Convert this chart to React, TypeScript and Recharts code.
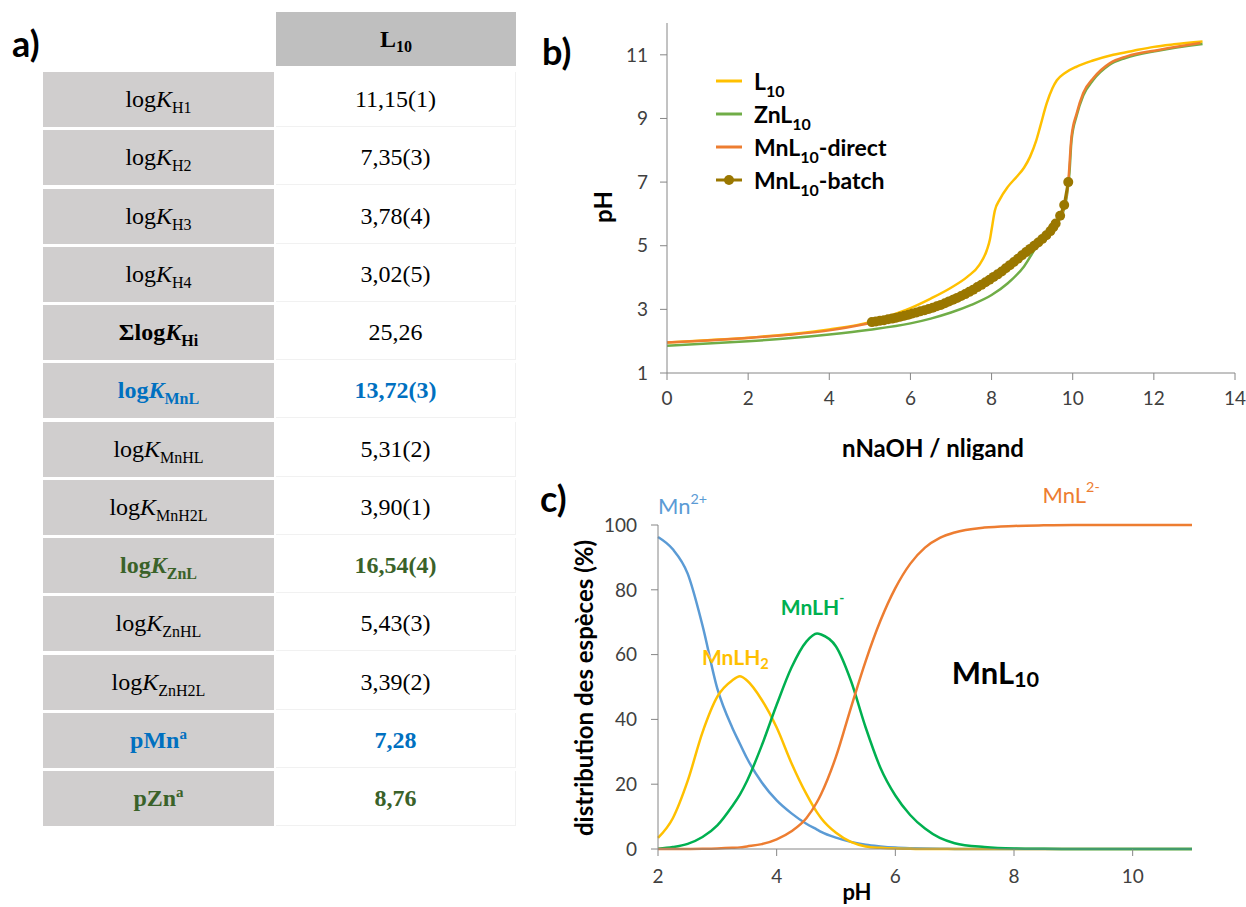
import React from 'react';
import { LineChart, Line, XAxis, YAxis, Legend, ReferenceDot } from 'recharts';

const SANS = 'Lato, "Open Sans", sans-serif';
const SERIF = '"Liberation Serif", "Times New Roman", serif';

const YELLOW = '#ffc000';
const GREEN_B = '#70ad47';
const ORANGE = '#ed7d31';
const BROWN = '#9a7700';
const BLUE_C = '#5b9bd5';
const GREEN_C = '#00b050';
const AXIS = '#868686';
const TICK = '#404040';
const MN_BLUE = '#0070c0';
const ZN_GREEN = '#3a6229';

// --- a) tableau des constantes
const rowHeads = ['log', 'log', 'log', 'log', 'Σlog', 'log', 'log', 'log', 'log', 'log', 'log', 'pMn', 'pZn'];
const rowSubs = ['H1', 'H2', 'H3', 'H4', 'Hi', 'MnL', 'MnHL', 'MnH2L', 'ZnL', 'ZnHL', 'ZnH2L', '', ''];
const rowValues = ['11,15(1)', '7,35(3)', '3,78(4)', '3,02(5)', '25,26', '13,72(3)', '5,31(2)', '3,90(1)', '16,54(4)', '5,43(3)', '3,39(2)', '7,28', '8,76'];
const rowTones = ['n', 'n', 'n', 'n', 'b', 'mn', 'n', 'n', 'zn', 'n', 'n', 'mn', 'zn'];

// --- b) titrages (x = nNaOH / nligand, y = pH)
const l10X = [0, 1, 2, 3, 4, 5, 5.5, 6, 6.5, 7, 7.4, 7.7, 7.88, 7.96, 8.0, 8.08, 8.2, 8.4, 8.62, 8.8, 8.95, 9.1, 9.2, 9.36, 9.5, 9.61, 9.8, 10.1, 10.5, 11, 11.5, 12, 12.5, 13.2];
const l10Y = [1.96, 2.03, 2.11, 2.22, 2.37, 2.6, 2.8, 3.04, 3.34, 3.68, 4.02, 4.4, 4.85, 5.2, 5.5, 6.1, 6.45, 6.85, 7.17, 7.45, 7.8, 8.3, 8.75, 9.48, 9.95, 10.2, 10.42, 10.63, 10.82, 11.0, 11.13, 11.25, 11.33, 11.42];

const znX = [0, 1, 2, 3, 4, 5, 6, 6.5, 7, 7.5, 8, 8.4, 8.8, 9.1, 9.5, 9.8, 9.88, 9.92, 9.97, 10.1, 10.26, 10.5, 10.9, 11.3, 12.1, 13.2];
const znY = [1.86, 1.93, 2.0, 2.09, 2.21, 2.36, 2.56, 2.71, 2.9, 3.14, 3.45, 3.82, 4.35, 4.95, 5.55, 6.2, 6.8, 7.3, 8.3, 9.1, 9.72, 10.2, 10.68, 10.9, 11.13, 11.34];

const directX = [0, 1, 2, 3, 4, 5.05, 5.5, 6, 6.5, 7, 7.5, 8, 8.5, 9, 9.4, 9.7, 9.8, 9.89, 9.97, 10.1, 10.26, 10.51, 10.92, 11.33, 12.15, 13.15];
const directY = [1.96, 2.02, 2.1, 2.2, 2.34, 2.58, 2.7, 2.86, 3.04, 3.28, 3.58, 3.98, 4.45, 4.93, 5.4, 5.95, 6.27, 7.0, 8.43, 9.17, 9.8, 10.27, 10.74, 10.95, 11.16, 11.37];

const batchX = [5.05, 5.15, 5.25, 5.35, 5.45, 5.55, 5.65, 5.75, 5.85, 5.95, 6.05, 6.15, 6.25, 6.35, 6.45, 6.55, 6.65, 6.75, 6.85, 6.95, 7.05, 7.15, 7.25, 7.35, 7.45, 7.55, 7.65, 7.75, 7.85, 7.95, 8.05, 8.15, 8.25, 8.35, 8.45, 8.55, 8.65, 8.75, 8.85, 8.95, 9.05, 9.15, 9.25, 9.35, 9.45, 9.52, 9.58, 9.69, 9.79, 9.89];
const batchY = [2.6, 2.62, 2.64, 2.66, 2.69, 2.71, 2.74, 2.77, 2.8, 2.83, 2.87, 2.9, 2.94, 2.97, 3.01, 3.05, 3.1, 3.14, 3.19, 3.25, 3.3, 3.36, 3.42, 3.48, 3.55, 3.62, 3.7, 3.77, 3.85, 3.93, 4.02, 4.1, 4.19, 4.29, 4.39, 4.49, 4.59, 4.7, 4.8, 4.9, 5.0, 5.1, 5.21, 5.33, 5.46, 5.58, 5.7, 5.94, 6.28, 7.0];

const legendNames = ['L', 'ZnL', 'MnL', 'MnL'];
const legendTails = ['', '', '-direct', '-batch'];
const legendColors = [YELLOW, GREEN_B, ORANGE, BROWN];

// --- c) distribution des espèces MnL10
const phGrid = [2, 2.25, 2.5, 2.75, 3, 3.25, 3.38, 3.5, 3.75, 4, 4.25, 4.5, 4.68, 4.75, 5, 5.25, 5.5, 5.75, 6, 6.25, 6.5, 6.75, 7, 7.5, 8, 8.5, 9, 10, 11];
const mnFree = [96.3, 92.5, 85, 69, 49.5, 37.5, 32.5, 28, 20.5, 15, 11, 7.8, 6.0, 5.3, 3.5, 2.2, 1.3, 0.8, 0.45, 0.25, 0.12, 0.06, 0.03, 0, 0, 0, 0, 0, 0];
const mnLH2 = [3.4, 9.5, 21, 36, 47, 52, 53.3, 52, 46, 37.5, 26.5, 17, 11.3, 9.5, 5, 2.2, 0.8, 0.35, 0.12, 0.04, 0, 0, 0, 0, 0, 0, 0, 0, 0];
const mnLH = [0.1, 0.6, 1.6, 3.7, 7.3, 13.2, 16.8, 21, 32, 44.5, 56, 64, 66.5, 66.2, 62.5, 52, 37.5, 25, 16.5, 10.5, 6.3, 3.4, 1.8, 0.6, 0.15, 0.05, 0, 0, 0];
const mnL = [0, 0, 0, 0.05, 0.15, 0.35, 0.5, 0.8, 1.5, 3, 5.5, 9.5, 14.5, 17, 28.5, 43.5, 58, 70.5, 80.5, 88, 93, 96, 97.7, 99.2, 99.7, 99.9, 100, 100, 100];

const toPts = (xs: number[], ys: number[]) => xs.map((x, i) => ({ x, y: ys[i] }));

const speciesData = phGrid.map((ph, i) => ({
  ph,
  mn: mnFree[i],
  lh2: mnLH2[i],
  lh: mnLH[i],
  l: mnL[i],
}));

// libellés des espèces (position en unités du graphe)
const speciesLabels = [
  { ph: 2.0, pct: 106, main: 'Mn', sup: '2+', sub: '', color: BLUE_C, size: 22, bold: false },
  { ph: 8.48, pct: 109.5, main: 'MnL', sup: '2-', sub: '', color: ORANGE, size: 22, bold: false },
  { ph: 4.07, pct: 75, main: 'MnLH', sup: '-', sub: '', color: GREEN_C, size: 21, bold: true },
  { ph: 2.74, pct: 59.5, main: 'MnLH', sup: '', sub: '2', color: YELLOW, size: 21, bold: true },
  { ph: 6.95, pct: 54.5, main: 'MnL', sup: '', sub: '10', color: '#000', size: 31, bold: true },
];

function PanelTag({ text, left, top }: { text: string; left: number; top: number }) {
  return (
    <div style={{ position: 'absolute', left, top, fontFamily: SANS, fontWeight: 700, fontSize: 36, lineHeight: '36px', color: '#000' }}>
      {text}
    </div>
  );
}

function ParamTable() {
  return (
    <div style={{ position: 'absolute', left: 0, top: 0, fontFamily: SERIF, fontSize: 24, color: '#000' }}>
      <div style={{
        position: 'absolute', left: 276, top: 12, width: 240, height: 54, background: '#bfbfbf',
        display: 'flex', alignItems: 'center', justifyContent: 'center', fontWeight: 700,
      }}>
        <span>L<span style={{ fontSize: 16, position: 'relative', top: 5 }}>10</span></span>
      </div>
      {rowValues.map((val, i) => {
        const top = 72 + Math.round(i * 58.25);
        const tone = rowTones[i];
        const color = tone === 'mn' ? MN_BLUE : tone === 'zn' ? ZN_GREEN : '#000';
        const labelBold = tone !== 'n';
        const valueBold = tone === 'mn' || tone === 'zn';
        const sub = rowSubs[i];
        return (
          <React.Fragment key={i}>
            <div style={{
              position: 'absolute', left: 43, top, width: 231, height: 55, background: '#d0cece',
              display: 'flex', alignItems: 'center', justifyContent: 'center',
              color, fontWeight: labelBold ? 700 : 400,
            }}>
              {sub ? (
                <span>
                  {rowHeads[i]}<i>K</i>
                  <span style={{ fontSize: 16, position: 'relative', top: 6 }}>{sub}</span>
                </span>
              ) : (
                <span>
                  {rowHeads[i]}
                  <span style={{ fontSize: 15, position: 'relative', top: -9 }}>a</span>
                </span>
              )}
            </div>
            <div style={{
              position: 'absolute', left: 276, top, width: 240, height: 55, background: '#fff',
              borderBottom: '1px solid #f1f1f1', borderRight: '1px solid #f1f1f1', boxSizing: 'border-box',
              display: 'flex', alignItems: 'center', justifyContent: 'center',
              color, fontWeight: valueBold ? 700 : 400,
            }}>
              {val}
            </div>
          </React.Fragment>
        );
      })}
    </div>
  );
}

function TitrationLegend() {
  return (
    <div style={{ fontFamily: SANS, fontWeight: 700, fontSize: 23, color: '#000' }}>
      {legendNames.map((n, i) => (
        <div key={i} style={{ display: 'flex', alignItems: 'center', height: 33 }}>
          <svg width={38} height={14} style={{ flex: 'none' }}>
            <line x1={0} y1={7} x2={26} y2={7} stroke={legendColors[i]} strokeWidth={3} />
            {i === 3 && <circle cx={13} cy={7} r={5} fill={BROWN} />}
          </svg>
          <span style={{ whiteSpace: 'nowrap' }}>
            {n}<span style={{ fontSize: 16, position: 'relative', top: 7 }}>10</span>{legendTails[i]}
          </span>
        </div>
      ))}
    </div>
  );
}

const titleText = (text: string, x: number, y: number, rotate: boolean, size: number) => () => (
  <text
    x={x}
    y={y}
    textAnchor="middle"
    dominantBaseline="central"
    transform={rotate ? `rotate(-90, ${x}, ${y})` : undefined}
    fontFamily={SANS}
    fontWeight={700}
    fontSize={size}
    fill="#000"
  >
    {text}
  </text>
);

function TitrationChart() {
  return (
    <div style={{ position: 'absolute', left: 540, top: 0 }}>
      <LineChart width={706} height={460} margin={{ top: 23, right: 11, bottom: 0, left: 67 }}>
        <XAxis
          type="number"
          dataKey="x"
          domain={[0, 14]}
          ticks={[0, 2, 4, 6, 8, 10, 12, 14]}
          height={87}
          axisLine={{ stroke: AXIS }}
          tickLine={{ stroke: AXIS }}
          tickSize={7}
          tickMargin={12}
          tick={{ fill: TICK, fontSize: 19, fontFamily: SANS }}
          label={{ content: titleText('nNaOH / nligand', 393, 447, false, 24) }}
        />
        <YAxis
          type="number"
          domain={[1, 12]}
          ticks={[1, 3, 5, 7, 9, 11]}
          width={60}
          axisLine={{ stroke: AXIS }}
          tickLine={{ stroke: AXIS }}
          tickSize={7}
          tickMargin={12}
          tick={{ fill: TICK, fontSize: 19, fontFamily: SANS }}
          label={{ content: titleText('pH', 62, 207, true, 24) }}
        />
        <Legend
          layout="vertical"
          align="center"
          verticalAlign="middle"
          wrapperStyle={{ left: 176, top: 64, width: 240 }}
          content={() => <TitrationLegend />}
        />
        <Line data={toPts(l10X, l10Y)} dataKey="y" type="monotone" stroke={YELLOW} strokeWidth={2.5} dot={false} isAnimationActive={false} />
        <Line data={toPts(znX, znY)} dataKey="y" type="monotone" stroke={GREEN_B} strokeWidth={2.5} dot={false} isAnimationActive={false} />
        <Line data={toPts(directX, directY)} dataKey="y" type="monotone" stroke={ORANGE} strokeWidth={2.5} dot={false} isAnimationActive={false} />
        <Line
          data={toPts(batchX, batchY)}
          dataKey="y"
          type="linear"
          stroke={BROWN}
          strokeWidth={3}
          dot={{ r: 5, fill: BROWN, stroke: BROWN, strokeWidth: 0 }}
          isAnimationActive={false}
        />
      </LineChart>
    </div>
  );
}

function SpeciesChart() {
  return (
    <div style={{ position: 'absolute', left: 540, top: 460 }}>
      <LineChart width={706} height={447} data={speciesData} margin={{ top: 65, right: 54, bottom: 0, left: 58 }}>
        <XAxis
          type="number"
          dataKey="ph"
          domain={[2, 11]}
          ticks={[2, 4, 6, 8, 10]}
          height={58}
          axisLine={{ stroke: AXIS }}
          tickLine={{ stroke: AXIS }}
          tickSize={7}
          tickMargin={14}
          tick={{ fill: TICK, fontSize: 19, fontFamily: SANS }}
          label={{ content: titleText('pH', 317, 431, false, 22) }}
        />
        <YAxis
          type="number"
          domain={[0, 100]}
          ticks={[0, 20, 40, 60, 80, 100]}
          width={60}
          axisLine={{ stroke: AXIS }}
          tickLine={{ stroke: AXIS }}
          tickSize={7}
          tickMargin={14}
          tick={{ fill: TICK, fontSize: 19, fontFamily: SANS }}
          label={{ content: titleText('distribution des espèces (%)', 43, 228, true, 24) }}
        />
        <Line dataKey="mn" type="monotone" stroke={BLUE_C} strokeWidth={2.5} dot={false} isAnimationActive={false} />
        <Line dataKey="lh2" type="monotone" stroke={YELLOW} strokeWidth={2.5} dot={false} isAnimationActive={false} />
        <Line dataKey="lh" type="monotone" stroke={GREEN_C} strokeWidth={2.5} dot={false} isAnimationActive={false} />
        <Line dataKey="l" type="monotone" stroke={ORANGE} strokeWidth={2.5} dot={false} isAnimationActive={false} />
        {speciesLabels.map((s, i) => (
          <ReferenceDot
            key={i}
            x={s.ph}
            y={s.pct}
            r={0}
            ifOverflow="visible"
            shape={(p: any) => (
              <text
                x={p.cx}
                y={p.cy}
                dominantBaseline="central"
                fontFamily={SANS}
                fontWeight={s.bold ? 700 : 400}
                fontSize={s.size}
                fill={s.color}
              >
                {s.main}
                {s.sup && <tspan dy={-8} fontSize={s.size * 0.65}>{s.sup}</tspan>}
                {s.sub && <tspan dy={7} fontSize={s.size * 0.7}>{s.sub}</tspan>}
              </text>
            )}
          />
        ))}
      </LineChart>
    </div>
  );
}

export default function App() {
  return (
    <div style={{ position: 'absolute', left: 0, top: 0, width: 1246, height: 907, background: '#fff', overflow: 'hidden' }}>
      <ParamTable />
      <PanelTag text="a)" left={12} top={25} />
      <PanelTag text="b)" left={542} top={33} />
      <PanelTag text="c)" left={540} top={480} />
      <TitrationChart />
      <SpeciesChart />
    </div>
  );
}
